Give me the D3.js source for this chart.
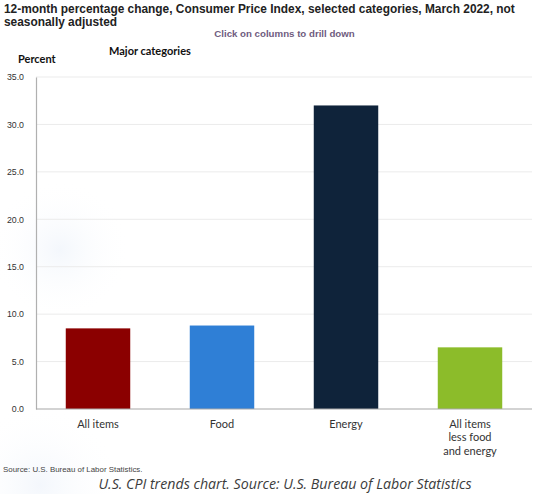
<!DOCTYPE html>
<html>
<head>
<meta charset="utf-8">
<script src="https://cdn.jsdelivr.net/npm/d3@7"></script>
<style>
  html, body { margin: 0; padding: 0; background: #fff; }
  svg { display: block; }
</style>
</head>
<body>
<svg id="chart" width="540" height="494"></svg>
<script>
// CPI March 2022, 12-month change
let categories = ["All items", "Food", "Energy", "All items less food and energy"]
let labelLines = [["All items"], ["Food"], ["Energy"], ["All items", "less food", "and energy"]]
let values = [8.5, 8.8, 32.0, 6.5]
let barColors = ["#8b0000", "#2f7fd6", "#0f233a", "#8cbc2a"]
let yTicks = [0, 5, 10, 15, 20, 25, 30, 35]

let svg = d3.select("#chart")

let x = d3.scaleBand().domain(categories).range([36, 532]).paddingInner(0.48).paddingOuter(0.24)
let y = d3.scaleLinear().domain([0, 35]).range([409, 77])

// faint background wash
let defs = svg.append("defs")
let grad = defs.append("radialGradient").attr("id", "wash")
grad.append("stop").attr("offset", "0%").attr("stop-color", "#e8eff9").attr("stop-opacity", 0.5)
grad.append("stop").attr("offset", "100%").attr("stop-color", "#ffffff").attr("stop-opacity", 0)
svg.append("circle").attr("cx", 40).attr("cy", 485).attr("r", 80).attr("fill", "url(#wash)")
svg.append("circle").attr("cx", 60).attr("cy", 250).attr("r", 70).attr("fill", "url(#wash)")

// titles
svg.append("text")
    .attr("x", 4).attr("y", 12.5)
    .attr("font-family", "Liberation Sans, Arial, sans-serif")
    .attr("font-weight", "bold").attr("font-size", 11.9).attr("fill", "#222")
    .text("12-month percentage change, Consumer Price Index, selected categories, March 2022, not")
svg.append("text")
    .attr("x", 4).attr("y", 26)
    .attr("font-family", "Liberation Sans, Arial, sans-serif")
    .attr("font-weight", "bold").attr("font-size", 11.9).attr("fill", "#222")
    .text("seasonally adjusted")

svg.append("text")
    .attr("x", 284.5).attr("y", 36.5)
    .attr("text-anchor", "middle")
    .attr("font-family", "Liberation Sans, Arial, sans-serif")
    .attr("font-weight", "bold").attr("font-size", 9.7).attr("fill", "#6f5c80")
    .text("Click on columns to drill down")

svg.append("text")
    .attr("x", 109).attr("y", 54.5)
    .attr("font-family", "Lato, sans-serif")
    .attr("font-weight", "bold").attr("font-size", 11).attr("fill", "#111")
    .text("Major categories")

svg.append("text")
    .attr("x", 18).attr("y", 62.5)
    .attr("font-family", "Lato, sans-serif")
    .attr("font-weight", "bold").attr("font-size", 11).attr("fill", "#111")
    .text("Percent")

// grid
svg.append("g")
    .selectAll("line")
    .data(yTicks.filter(d => d > 0))
    .join("line")
    .attr("x1", 36).attr("x2", 532)
    .attr("y1", d => y(d)).attr("y2", d => y(d))
    .attr("stroke", "#ebebeb").attr("stroke-width", 1)

// y axis
let axisL = d3.axisLeft(y)
    .tickValues(yTicks)
    .tickFormat(d3.format(".1f"))
    .tickSize(0)
    .tickPadding(12)

let gy = svg.append("g")
    .attr("transform", "translate(36,0)")
    .call(axisL)
gy.select(".domain").attr("stroke", "#b0b0b0").attr("stroke-width", 1.2)
gy.selectAll("text")
    .attr("font-family", "Liberation Sans, Arial, sans-serif")
    .attr("font-size", 8.8).attr("fill", "#333")

// bars
svg.append("g")
    .selectAll("rect")
    .data(categories)
    .join("rect")
    .attr("x", d => x(d))
    .attr("width", x.bandwidth())
    .attr("y", (d, i) => y(values[i]))
    .attr("height", (d, i) => y(0) - y(values[i]))
    .attr("fill", (d, i) => barColors[i])

// baseline
svg.append("line")
    .attr("x1", 36).attr("x2", 532)
    .attr("y1", y(0)).attr("y2", y(0))
    .attr("stroke", "#a8a8a8").attr("stroke-width", 1.2)

// category labels
let lab = svg.append("g")
    .selectAll("text")
    .data(categories)
    .join("text")
    .attr("text-anchor", "middle")
    .attr("font-family", "Lato, sans-serif")
    .attr("font-size", 11).attr("fill", "#333")
    .attr("x", d => x(d) + x.bandwidth() / 2)
    .attr("y", 427.5)

lab.selectAll("tspan")
    .data((d, i) => labelLines[i])
    .join("tspan")
    .attr("x", function () { return d3.select(this.parentNode).attr("x") })
    .attr("dy", (d, i) => i === 0 ? 0 : 13.6)
    .text(d => d)

// source + caption
svg.append("text")
    .attr("x", 3).attr("y", 471.5)
    .attr("font-family", "Liberation Sans, Arial, sans-serif")
    .attr("font-size", 7.9).attr("fill", "#444")
    .text("Source: U.S. Bureau of Labor Statistics.")

svg.append("text")
    .attr("x", 285).attr("y", 488.5)
    .attr("text-anchor", "middle")
    .attr("font-family", "Open Sans, sans-serif")
    .attr("font-style", "italic").attr("font-size", 14.2).attr("fill", "#3c3c3c")
    .text("U.S. CPI trends chart. Source: U.S. Bureau of Labor Statistics")
</script>
</body>
</html>
